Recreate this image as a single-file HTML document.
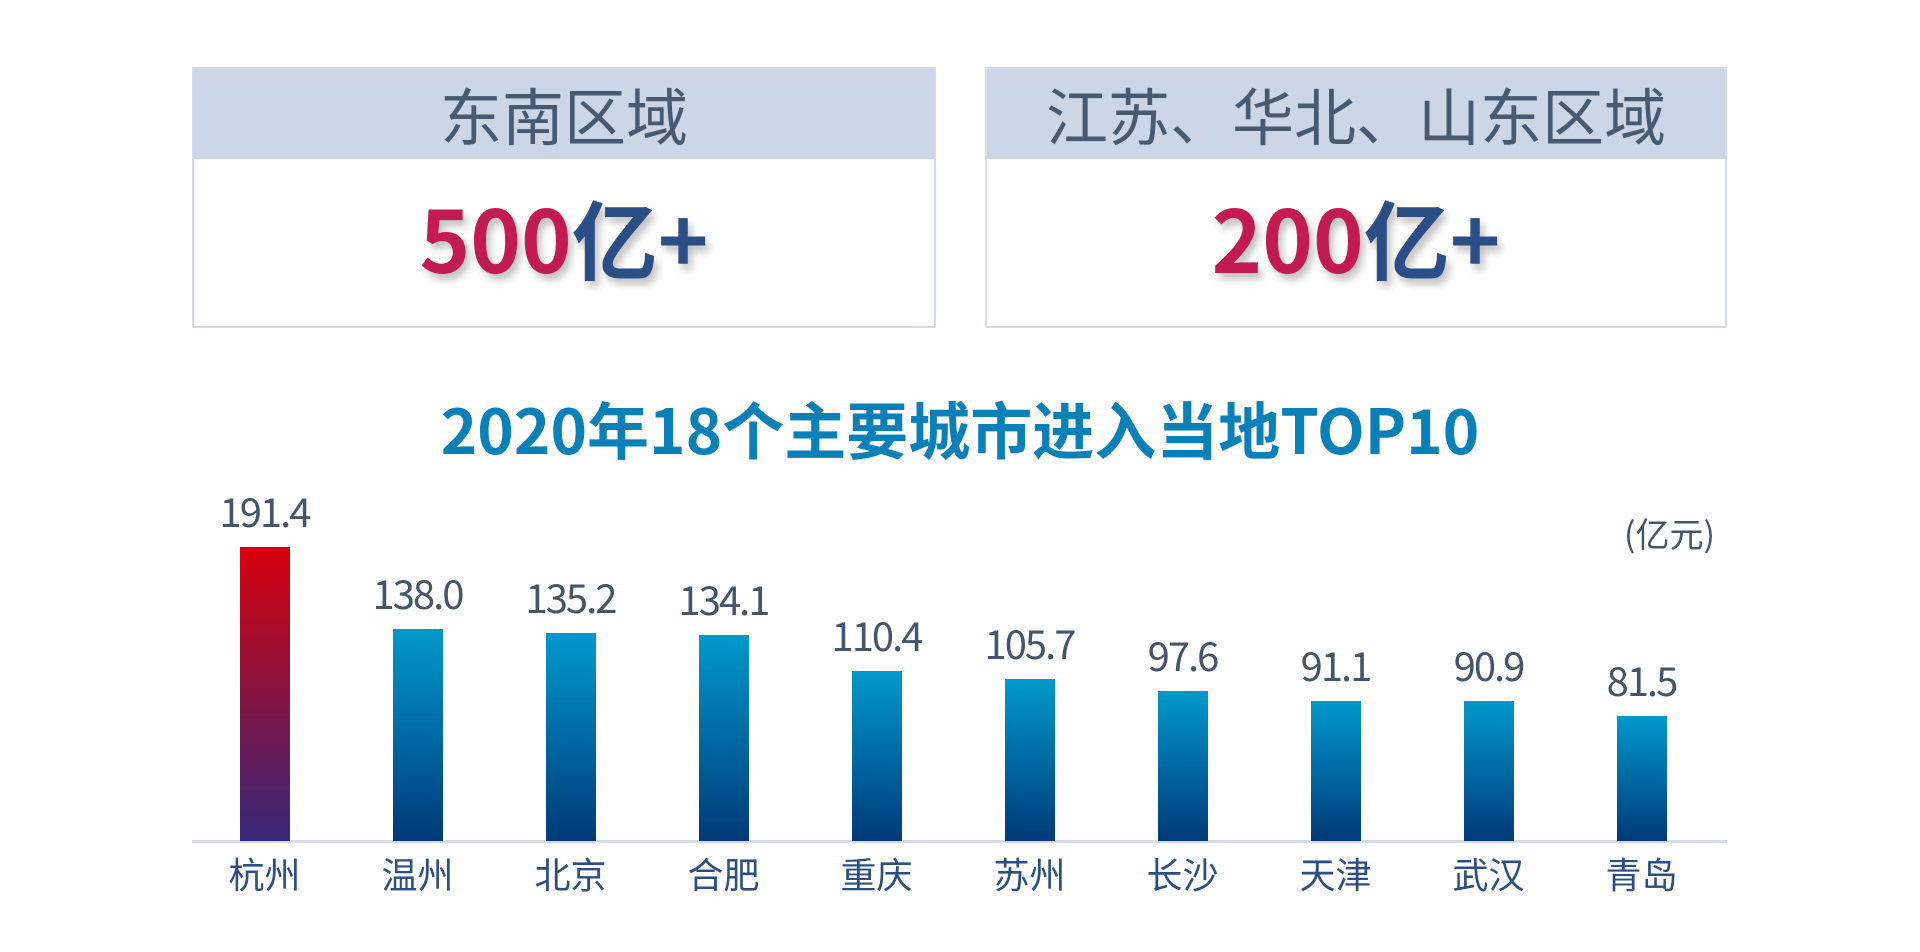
<!DOCTYPE html>
<html><head><meta charset="utf-8"><style>
body{margin:0;width:1920px;height:952px;background:#fff;position:relative;overflow:hidden;font-family:"Noto Sans CJK SC","Liberation Sans",sans-serif}
.box{position:absolute;top:67px;height:261px;border:2px solid #d3daea;box-sizing:border-box;background:#fff}
.hd{height:90px;background:#cdd6e6;color:#475a72;font-size:62px;text-align:center;line-height:88px}
.val{position:absolute;left:0;right:0;top:112px;text-align:center;font-size:86px;font-weight:bold;line-height:110px;text-shadow:4px 6px 8px rgba(0,0,0,0.25)}
.r{color:#c41a52}.b{color:#2b4e86}
.title{position:absolute;left:0;width:1920px;top:388px;text-align:center;font-size:62px;font-weight:bold;color:#0a80b8;line-height:78px}
.bar{position:absolute;width:50px;background:linear-gradient(#0099cc,#003a78)}
.lbl{position:absolute;width:160px;text-align:center;font-size:40px;color:#44546a;letter-spacing:-2px;line-height:50px}
.city{position:absolute;width:160px;text-align:center;font-size:36px;color:#2b4e86;top:848px;line-height:50px}
</style></head><body>
<div class="box" style="left:192px;width:744px"><div class="hd">东南区域</div><div class="val"><span class="r">500</span><span class="b">亿+</span></div></div>
<div class="box" style="left:985px;width:742px"><div class="hd">江苏、华北、山东区域</div><div class="val"><span class="r">200</span><span class="b">亿+</span></div></div>
<div class="title">2020年18个主要城市进入当地TOP10</div>
<div style="position:absolute;left:1624px;top:508px;font-size:34px;color:#44546a;line-height:50px">(亿元)</div>
<div style="position:absolute;left:192px;top:840px;width:1535px;height:3px;background:#d3daea"></div>
<div id="c"></div>
<script>
var d=[["杭州",191.4],["温州",138.0],["北京",135.2],["合肥",134.1],["重庆",110.4],["苏州",105.7],["长沙",97.6],["天津",91.1],["武汉",90.9],["青岛",81.5]];
var h="";
d.forEach(function(e,i){var cx=264.5+i*153;var ht=e[1]*1.536;var top=841-ht;
var bg=i==0?"background:linear-gradient(#d6000c,#35287a)":"";
h+='<div class="bar" style="left:'+(cx-25)+'px;top:'+top+'px;height:'+ht+'px;'+bg+'"></div>';
h+='<div class="lbl" style="left:'+(cx-80)+'px;top:'+(top-62)+'px">'+e[1].toFixed(1)+'</div>';
h+='<div class="city" style="left:'+(cx-80)+'px">'+e[0]+'</div>';});
document.getElementById("c").innerHTML=h;
</script>
</body></html>
